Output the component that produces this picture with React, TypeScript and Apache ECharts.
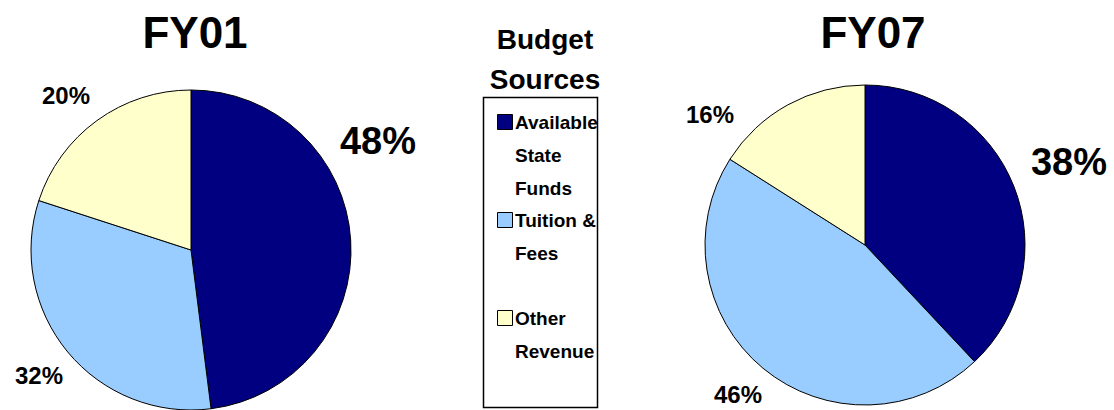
import React, { useEffect, useRef } from "react";
import * as echarts from "echarts";

const categories = ["Available State Funds", "Tuition & Fees", "Other Revenue"];
const legendLines = [["Available", "State", "Funds"], ["Tuition &", "Fees"], ["Other", "Revenue"]];
const colors = ["#000080", "#99CCFF", "#FFFFCC"];
const fy01Values = [48, 32, 20];
const fy07Values = [38, 46, 16];
const chartTitles = ["FY01", "FY07"];
const legendTitle = "Budget\nSources";

const FONT = "'Liberation Sans', Arial, sans-serif";

export default function App() {
  const ref = useRef<HTMLDivElement>(null);
  useEffect(() => {
    if (!ref.current) return;
    const chart = echarts.init(ref.current, null, { renderer: "svg" });

    const labelPos: Record<string, number[][]> = {
      FY01: [[378, 141], [39, 375], [66, 95]],
      FY07: [[1069, 162], [738, 394], [710, 114]],
    };

    const makeSeries = (name: string, values: number[], center: (string | number)[]) => ({
      type: "pie",
      name,
      center,
      radius: 160,
      startAngle: 90,
      clockwise: true,
      silent: true,
      data: values.map((v, i) => ({
        name: categories[i],
        value: v,
        itemStyle: { color: colors[i] },
        label: { fontSize: i === 0 ? 38 : 24 },
      })),
      itemStyle: { borderColor: "#000", borderWidth: 1 },
      label: {
        show: true,
        position: "inside",
        overflow: "none",
        formatter: "{c}%",
        fontFamily: FONT,
        fontWeight: "bold",
        color: "#000",
      },
      labelLine: { show: false },
      labelLayout: (p: any) => {
        const pos = labelPos[name][p.dataIndex];
        return { x: pos[0], y: pos[1], align: "center", verticalAlign: "middle" };
      },
    });

    const graphics: any[] = [];
    graphics.push({
      type: "rect",
      shape: { x: 483.5, y: 97.5, width: 114, height: 310 },
      style: { fill: "#fff", stroke: "#000", lineWidth: 1.5 },
    });
    legendLines.forEach((lines, i) => {
      const y0 = 122 + i * 98;
      graphics.push({
        type: "rect",
        shape: { x: 497.5, y: y0 - 7.5, width: 15, height: 15 },
        style: { fill: colors[i], stroke: "#000", lineWidth: 1 },
      });
      lines.forEach((t, j) => {
        graphics.push({
          type: "text",
          x: 515,
          y: y0 + j * 33,
          style: {
            text: t,
            font: `bold 19px ${FONT}`,
            fill: "#000",
            textAlign: "left",
            textVerticalAlign: "middle",
          },
        });
      });
    });

    chart.setOption({
      animation: false,
      backgroundColor: "#fff",
      title: [
        {
          text: chartTitles[0],
          left: 190,
          top: 5,
          textAlign: "center",
          textStyle: { fontFamily: FONT, fontSize: 44, fontWeight: "bold", color: "#000" },
        },
        {
          text: chartTitles[1],
          left: 868,
          top: 5,
          textAlign: "center",
          textStyle: { fontFamily: FONT, fontSize: 44, fontWeight: "bold", color: "#000" },
        },
        {
          text: legendTitle,
          left: 540,
          top: 14,
          textAlign: "center",
          textStyle: { fontFamily: FONT, fontSize: 28, fontWeight: "bold", color: "#000", lineHeight: 40 },
        },
      ],
      series: [makeSeries("FY01", fy01Values, [191, 250]), makeSeries("FY07", fy07Values, [865, 245])],
      graphic: graphics,
    });
    return () => chart.dispose();
  }, []);
  return <div ref={ref} style={{ position: "fixed", left: 0, top: 0, width: 1114, height: 410 }} />;
}
